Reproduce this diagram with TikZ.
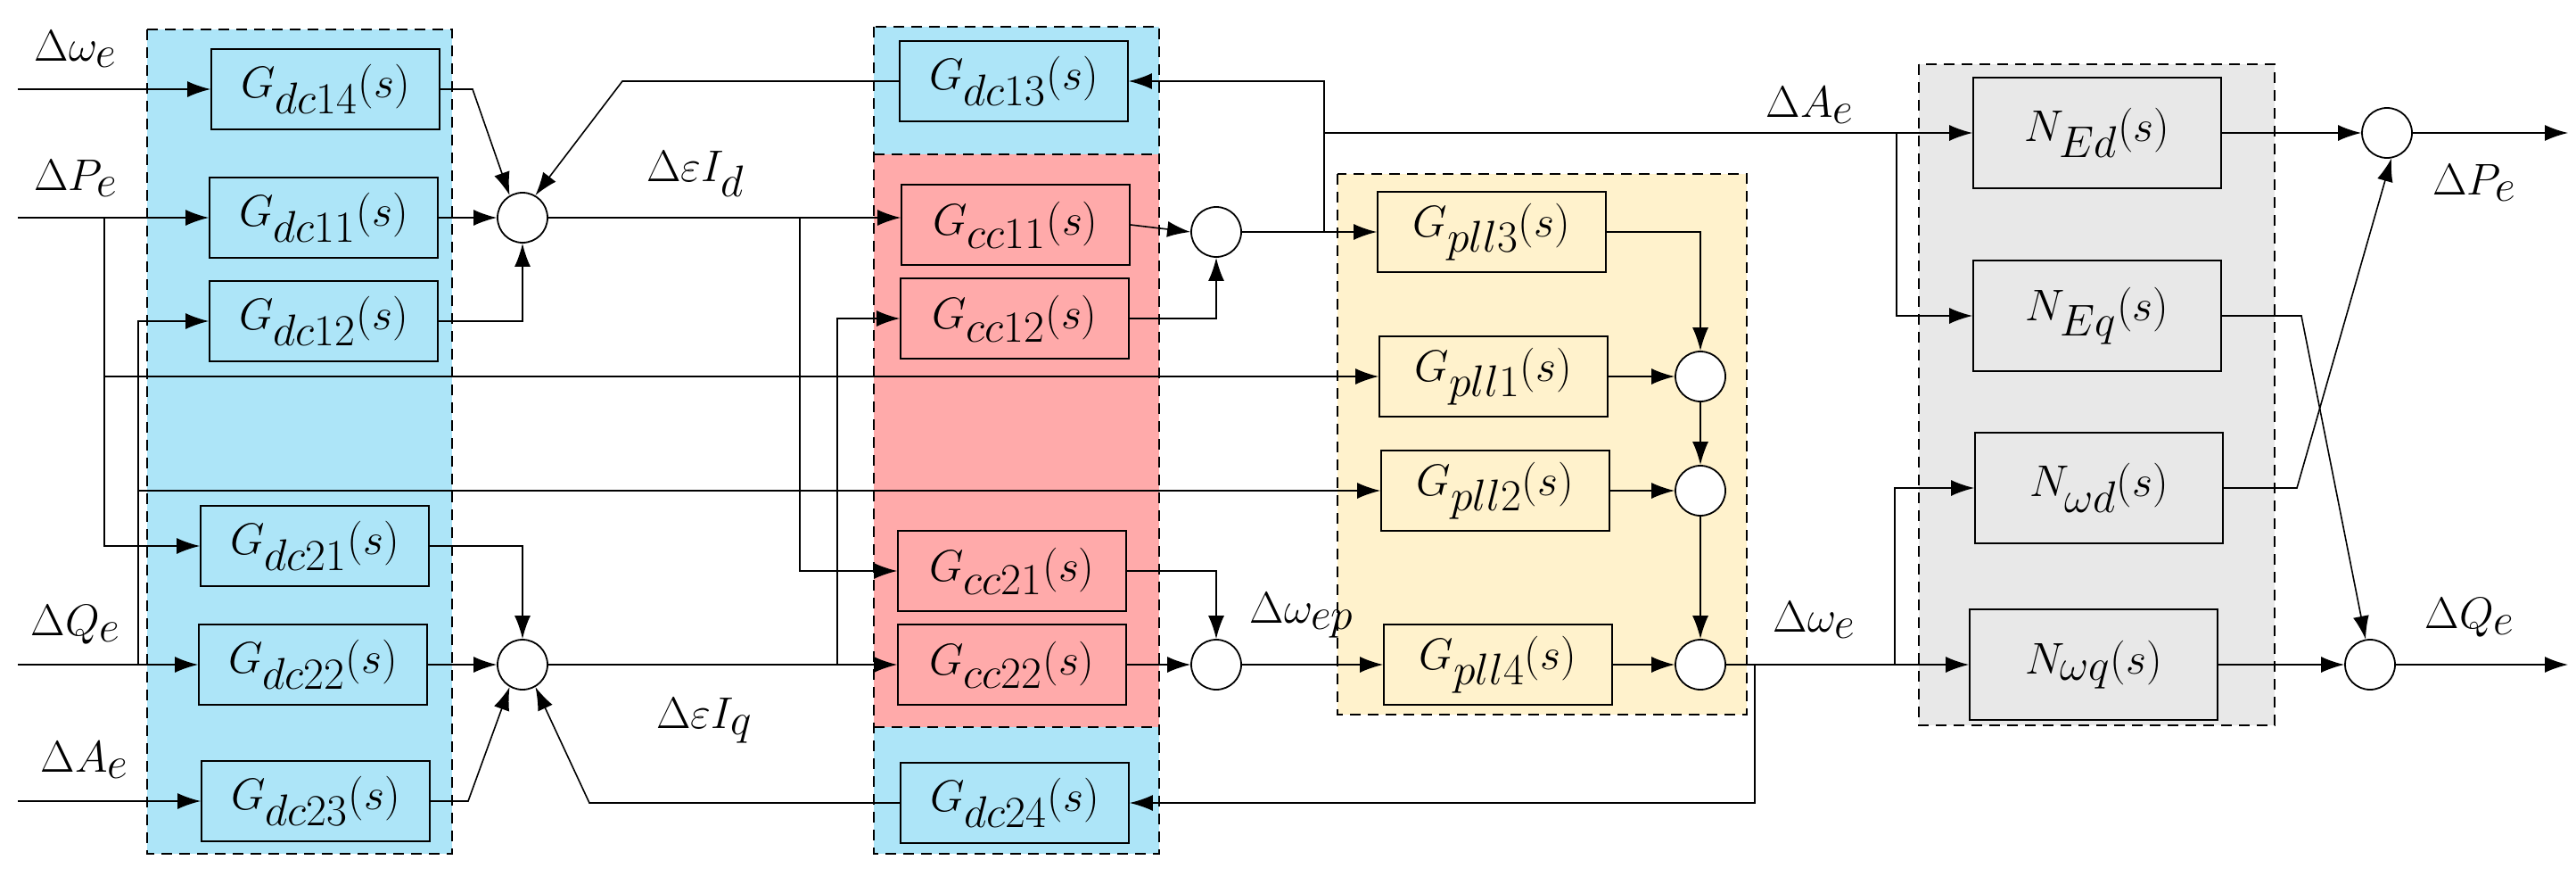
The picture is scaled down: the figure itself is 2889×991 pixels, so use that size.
\documentclass[tikz,border=0pt]{standalone}
\usepackage{fontspec}
\setmainfont{Liberation Serif}
\usetikzlibrary{arrows.meta}
\definecolor{cblue}{HTML}{ADE5F8}
\definecolor{cred}{HTML}{FFAAAA}
\definecolor{cyel}{HTML}{FFF2CC}
\definecolor{cgray}{HTML}{E8E8E8}
\begin{document}
\begin{tikzpicture}[x=0.5pt,y=-0.5pt,
  box/.style={draw,line width=0.9pt,inner sep=0pt,minimum width=128pt,minimum height=45pt,font=\fontsize{34}{36}\selectfont},
  nbox/.style={box,minimum width=139pt,minimum height=62pt},
  sum/.style={draw,circle,fill=white,line width=0.9pt,minimum size=28pt,inner sep=0pt},
  grp/.style={draw,dashed,line width=1.1pt,dash pattern=on 6pt off 4pt},
  arr/.style={-{Latex[length=13pt,width=9pt]},line width=0.8pt},
  ln/.style={line width=0.8pt},
  lab/.style={font=\fontsize{38}{40}\selectfont}]
\useasboundingbox (0,0) rectangle (2889,991);
% groups
\fill[cblue] (165,33) rectangle (507,957); \draw[grp] (165,33) rectangle (507,957);
\fill[cblue] (980,30) rectangle (1300,173);
\fill[cred] (980,173) rectangle (1300,815);
\fill[cblue] (980,815) rectangle (1300,957);
\draw[grp] (980,30) rectangle (1300,957);
\draw[grp] (980,173) -- (1300,173); \draw[grp] (980,815) -- (1300,815);
\fill[cyel] (1500,195) rectangle (1959,801); \draw[grp] (1500,195) rectangle (1959,801);
\fill[cgray] (2152,72) rectangle (2551,813); \draw[grp] (2152,72) rectangle (2551,813);
% blocks
\node[box] (dc14) at (365,100) {$G_{dc14}\bigl(s\bigr)$};
\node[box] (dc11) at (363,244) {$G_{dc11}\bigl(s\bigr)$};
\node[box] (dc12) at (363,360) {$G_{dc12}\bigl(s\bigr)$};
\node[box] (dc21) at (353,612) {$G_{dc21}\bigl(s\bigr)$};
\node[box] (dc22) at (351,745) {$G_{dc22}\bigl(s\bigr)$};
\node[box] (dc23) at (354,898) {$G_{dc23}\bigl(s\bigr)$};
\node[box] (dc13) at (1137,91) {$G_{dc13}\bigl(s\bigr)$};
\node[box] (cc11) at (1139,252) {$G_{cc11}\bigl(s\bigr)$};
\node[box] (cc12) at (1138,357) {$G_{cc12}\bigl(s\bigr)$};
\node[box] (cc21) at (1135,640) {$G_{cc21}\bigl(s\bigr)$};
\node[box] (cc22) at (1135,745) {$G_{cc22}\bigl(s\bigr)$};
\node[box] (dc24) at (1138,900) {$G_{dc24}\bigl(s\bigr)$};
\node[box] (pll3) at (1673,260) {$G_{pll3}\bigl(s\bigr)$};
\node[box] (pll1) at (1675,422) {$G_{pll1}\bigl(s\bigr)$};
\node[box] (pll2) at (1677,550) {$G_{pll2}\bigl(s\bigr)$};
\node[box] (pll4) at (1680,745) {$G_{pll4}\bigl(s\bigr)$};
\node[nbox] (NEd) at (2352,149) {$N_{Ed}\bigl(s\bigr)$};
\node[nbox] (NEq) at (2352,354) {$N_{Eq}\bigl(s\bigr)$};
\node[nbox] (Nwd) at (2354,547) {$N_{\omega d}\bigl(s\bigr)$};
\node[nbox] (Nwq) at (2348,745) {$N_{\omega q}\bigl(s\bigr)$};
% sums
\node[sum] (s1) at (586,244) {};
\node[sum] (s2) at (586,745) {};
\node[sum] (s3) at (1364,260) {};
\node[sum] (s4) at (1364,745) {};
\node[sum] (p1) at (1907,422) {};
\node[sum] (p2) at (1907,550) {};
\node[sum] (p4) at (1907,745) {};
\node[sum] (o1) at (2677,149) {};
\node[sum] (o2) at (2658,745) {};
% coordinates
\coordinate (iw) at (20,100);
\coordinate (iP) at (20,244);
\coordinate (iQ) at (20,745);
\coordinate (iA) at (20,898);
\coordinate (bP) at (117,244);
\coordinate (bP2) at (117,422);
\coordinate (bQ) at (155,745);
\coordinate (bQ2) at (155,550);
\coordinate (k14) at (530,100);
\coordinate (k23) at (525,898);
\coordinate (k13) at (698,91);
\coordinate (k24) at (661,900);
\coordinate (bd) at (897,244);
\coordinate (bq) at (939,745);
\coordinate (t3) at (1485,260);
\coordinate (tA) at (1485,149);
\coordinate (bA) at (2127,149);
\coordinate (bw) at (1968,745);
\coordinate (bw2) at (2125,745);
\coordinate (kq) at (2581,354);
\coordinate (kd) at (2576,547);
\coordinate (oP) at (2880,149);
\coordinate (oQ) at (2880,745);
% inputs
\draw[arr] (iw) -- (dc14.west);
\draw[arr] (iP) -- (dc11.west);
\draw[arr] (iQ) -- (dc22.west);
\draw[arr] (iA) -- (dc23.west);
\draw[arr] (bP) |- (dc21.west);
\draw[arr] (bP2) -- (pll1.west);
\draw[arr] (bQ) |- (dc12.west);
\draw[arr] (bQ2) -- (pll2.west);
% dc to sums
\draw[arr] (dc14.east) -- (k14) -- (s1.120);
\draw[arr] (dc11.east) -- (s1.west);
\draw[arr] (dc12.east) -| (s1.south);
\draw[arr] (dc13.west) -- (k13) -- (s1.60);
\draw[arr] (dc21.east) -| (s2.north);
\draw[arr] (dc22.east) -- (s2.west);
\draw[arr] (dc23.east) -- (k23) -- (s2.-120);
\draw[arr] (dc24.west) -- (k24) -- (s2.-60);
% eps I
\draw[arr] (s1.east) -- (cc11.west |- s1.east);
\draw[arr] (bd) |- (cc21.west);
\draw[arr] (s2.east) -- (cc22.west);
\draw[arr] (bq) |- (cc12.west);
\draw[arr] (cc11.east) -- (s3.west);
\draw[arr] (cc12.east) -| (s3.south);
\draw[arr] (cc21.east) -| (s4.north);
\draw[arr] (cc22.east) -- (s4.west);
\draw[arr] (s3.east) -- (pll3.west);
\draw[arr] (s4.east) -- (pll4.west);
\draw[arr] (t3) |- (dc13.east);
\draw[arr] (tA) -- (NEd.west);
\draw[arr] (bA) |- (NEq.west);
% pll
\draw[arr] (pll3.east) -| (p1.north);
\draw[arr] (pll1.east) -- (p1.west);
\draw[arr] (p1.south) -- (p2.north);
\draw[arr] (pll2.east) -- (p2.west);
\draw[arr] (p2.south) -- (p4.north);
\draw[arr] (pll4.east) -- (p4.west);
\draw[arr] (p4.east) -- (Nwq.west);
\draw[arr] (bw) |- (dc24.east);
\draw[arr] (bw2) |- (Nwd.west);
% outputs
\draw[arr] (NEd.east) -- (o1.west);
\draw[arr] (NEq.east) -- (kq) -- (o2.100);
\draw[arr] (Nwd.east) -- (kd) -- (o1.-80);
\draw[arr] (Nwq.east) -- (o2.west);
\draw[arr] (o1.east) -- (oP);
\draw[arr] (o2.east) -- (oQ);
% labels
\node[lab] (l1) at (85,55) {$\Delta\omega_e$};
\node[lab] (l2) at (85,200) {$\Delta P_e$};
\node[lab] (l3) at (85,700) {$\Delta Q_e$};
\node[lab] (l4) at (95,852) {$\Delta A_e$};
\node[lab] (l5) at (780,195) {$\Delta\varepsilon I_d$};
\node[lab] (l6) at (790,808) {$\Delta\varepsilon I_q$};
\node[lab] (l7) at (1460,690) {$\Delta\omega_{ep}$};
\node[lab] (l8) at (2030,118) {$\Delta A_e$};
\node[lab] (l9) at (2035,695) {$\Delta\omega_e$};
\node[lab] (l10) at (2775,205) {$\Delta P_e$};
\node[lab] (l11) at (2770,692) {$\Delta Q_e$};
\end{tikzpicture}
\end{document}
